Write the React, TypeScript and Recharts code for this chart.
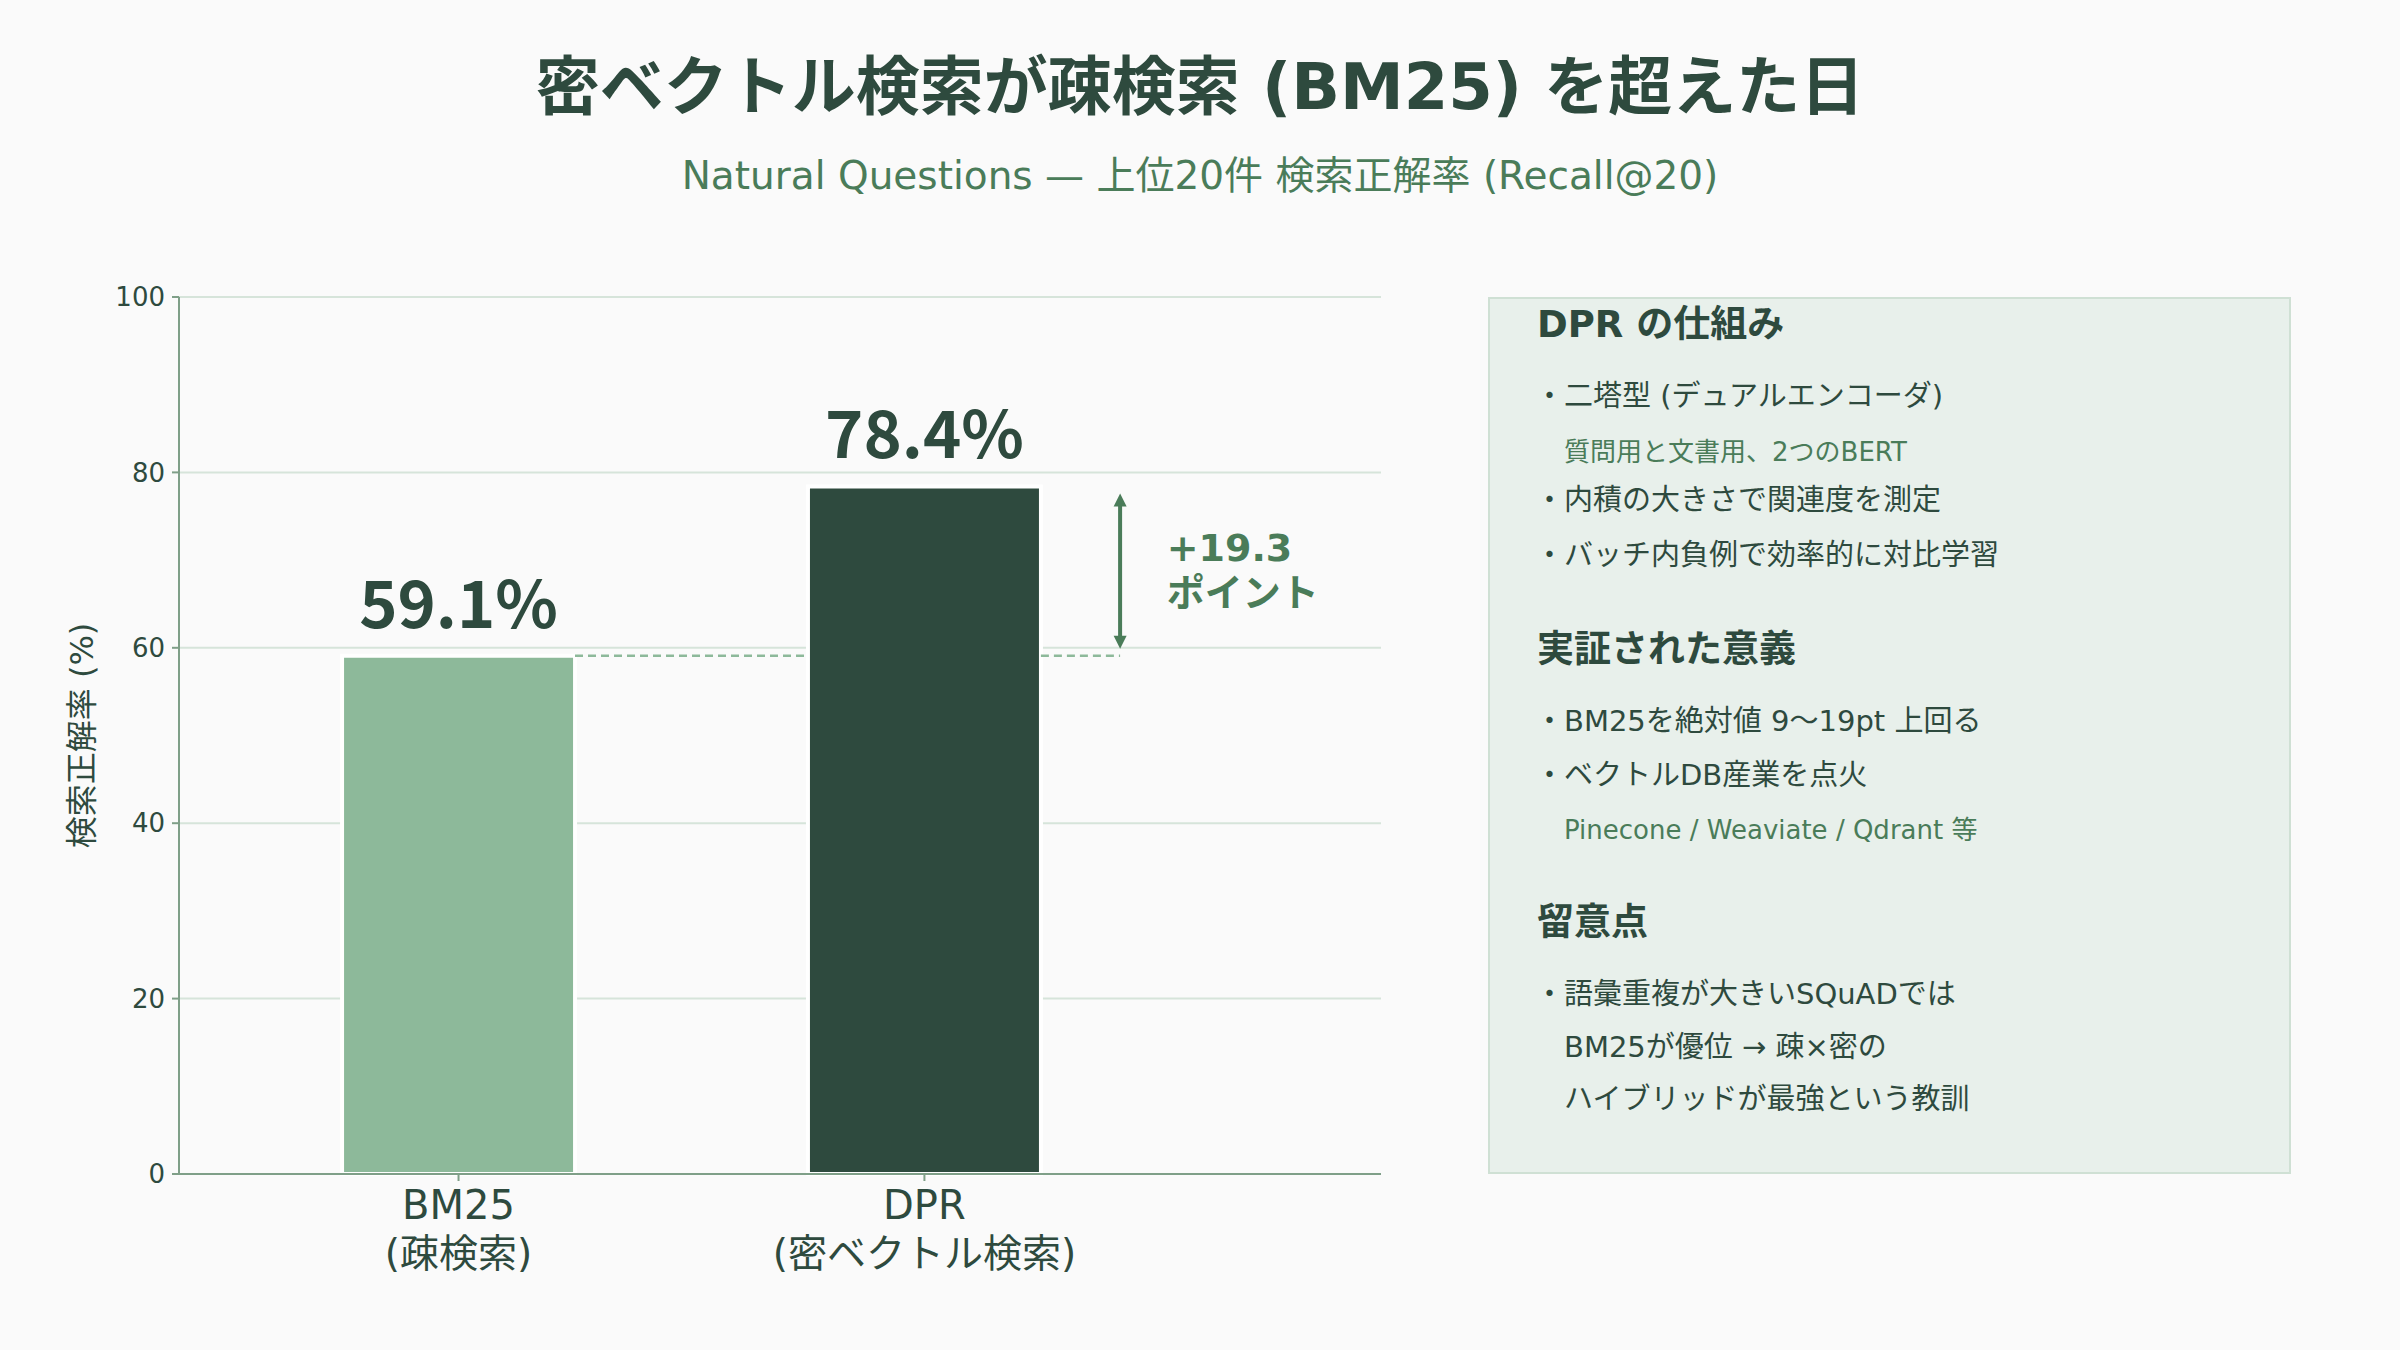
import React from 'react';
import {
  BarChart,
  Bar,
  Cell,
  XAxis,
  YAxis,
  CartesianGrid,
  LabelList,
  Label,
  ReferenceLine,
  ReferenceDot,
} from 'recharts';

// --- data ---
const methods = ['BM25', 'DPR'];
const methodNotes = ['(疎検索)', '(密ベクトル検索)'];
const recallAt20 = [59.1, 78.4];
const barColors = ['#8db99a', '#2e4a3e'];
const yTicks = [0, 20, 40, 60, 80, 100];

const panelSections = [
  {
    heading: 'DPR の仕組み',
    lines: [
      { text: '・二塔型 (デュアルエンコーダ)', kind: 'bullet' },
      { text: '質問用と文書用、2つのBERT', kind: 'note' },
      { text: '・内積の大きさで関連度を測定', kind: 'bullet' },
      { text: '・バッチ内負例で効率的に対比学習', kind: 'bullet' },
    ],
  },
  {
    heading: '実証された意義',
    lines: [
      { text: '・BM25を絶対値 9〜19pt 上回る', kind: 'bullet' },
      { text: '・ベクトルDB産業を点火', kind: 'bullet' },
      { text: 'Pinecone / Weaviate / Qdrant 等', kind: 'note' },
    ],
  },
  {
    heading: '留意点',
    lines: [
      { text: '・語彙重複が大きいSQuADでは', kind: 'bullet' },
      { text: 'BM25が優位 → 疎×密の', kind: 'cont' },
      { text: 'ハイブリッドが最強という教訓', kind: 'cont' },
    ],
  },
];

const data = methods.map((name, i) => ({
  pos: i,
  name,
  note: methodNotes[i],
  value: recallAt20[i],
}));

// bar width in x-axis units (one unit between the two bars)
const BAR_W = 0.5;
const ARROW_X = 1.42;
const NOTE_X = 1.52;

const DARK = '#2e4a3e';
const MID = '#4a7c59';
const AXIS = '#7f9f88';
const FONT = "'DejaVu Sans', 'Noto Sans CJK JP', sans-serif";
const LABEL_FONT = "'Noto Sans CJK JP', sans-serif";

const gain = recallAt20[1] - recallAt20[0];

function MethodTick(props: any) {
  const { x, y, payload } = props;
  const d = data[payload.value] ?? data[0];
  return (
    <g>
      <text x={x} y={y + 36} textAnchor="middle" fill={DARK} fontSize={40} fontFamily={FONT}>
        {d.name}
      </text>
      <text x={x} y={y + 84} textAnchor="middle" fill={DARK} fontSize={39} fontFamily={FONT}>
        {d.note}
      </text>
    </g>
  );
}

function GapArrow(props: any) {
  const { x1, y1, x2, y2 } = props;
  const top = Math.min(y1, y2) + 7;
  const bottom = Math.max(y1, y2) - 7;
  const x = x1;
  return (
    <g>
      <line x1={x} y1={top + 10} x2={x2} y2={bottom - 10} stroke={MID} strokeWidth={4} />
      <polygon points={`${x},${top} ${x - 6.5},${top + 13} ${x + 6.5},${top + 13}`} fill={MID} />
      <polygon points={`${x},${bottom} ${x - 6.5},${bottom - 13} ${x + 6.5},${bottom - 13}`} fill={MID} />
    </g>
  );
}

function GapNote(props: any) {
  const { cx, cy } = props;
  return (
    <g fill={MID} fontSize={38} fontWeight={700} fontFamily={FONT}>
      <text x={cx} y={cy - 10}>{`+${gain.toFixed(1)}`}</text>
      <text x={cx} y={cy + 35}>ポイント</text>
    </g>
  );
}

function SidePanel() {
  const sectionTops = [27, 352, 625];
  const lineOffsets = [
    [72, 127, 176, 231],
    [72, 126, 180],
    [72, 125, 177],
  ];
  return (
    <div
      style={{
        position: 'absolute',
        left: 1488,
        top: 297,
        width: 799,
        height: 873,
        background: '#e8f0eb',
        border: '2px solid #cfe0d4',
        fontFamily: FONT,
      }}
    >
      {panelSections.map((sec, si) => (
        <React.Fragment key={sec.heading}>
          <div
            style={{
              position: 'absolute',
              left: 47,
              top: sectionTops[si] - 20,
              fontSize: 37,
              lineHeight: '37px',
              fontWeight: 700,
              color: DARK,
              whiteSpace: 'nowrap',
            }}
          >
            {sec.heading}
          </div>
          {sec.lines.map((ln, li) => {
            const fs = ln.kind === 'note' ? 26 : 29;
            return (
              <div
                key={ln.text}
                style={{
                  position: 'absolute',
                  left: ln.kind === 'bullet' ? 45 : 74,
                  top: sectionTops[si] + lineOffsets[si][li] - fs * 0.55,
                  fontSize: fs,
                  lineHeight: `${fs}px`,
                  color: ln.kind === 'note' ? MID : DARK,
                  whiteSpace: 'nowrap',
                }}
              >
                {ln.text}
              </div>
            );
          })}
        </React.Fragment>
      ))}
    </div>
  );
}

export default function App() {
  return (
    <div
      style={{
        position: 'absolute',
        left: 0,
        top: 0,
        width: 2400,
        height: 1350,
        background: '#fafafa',
        fontFamily: FONT,
        overflow: 'hidden',
      }}
    >
      <div
        style={{
          position: 'absolute',
          left: 0,
          top: 55,
          width: 2400,
          textAlign: 'center',
          fontSize: 64,
          lineHeight: '64px',
          fontWeight: 700,
          color: DARK,
        }}
      >
        密ベクトル検索が疎検索 (BM25) を超えた日
      </div>
      <div
        style={{
          position: 'absolute',
          left: 0,
          top: 156,
          width: 2400,
          textAlign: 'center',
          fontSize: 39,
          lineHeight: '39px',
          color: MID,
        }}
      >
        Natural Questions — 上位20件 検索正解率 (Recall@20)
      </div>

      <div style={{ position: 'absolute', left: 0, top: 0 }}>
        <BarChart
          width={1400}
          height={1350}
          data={data}
          margin={{ top: 297, right: 19, bottom: 76, left: 0 }}
          barCategoryGap={`${((1 - BAR_W) / 2) * 100}%`}
        >
          <CartesianGrid vertical={false} stroke="#d6e4da" strokeWidth={2} />
          <XAxis
            type="number"
            dataKey="pos"
            domain={[-0.6, 1.98]}
            ticks={[0, 1]}
            height={100}
            axisLine={{ stroke: AXIS, strokeWidth: 2 }}
            tickLine={{ stroke: AXIS, strokeWidth: 2 }}
            tickSize={7}
            tick={<MethodTick />}
          />
          <YAxis
            type="number"
            domain={[0, 100]}
            ticks={yTicks}
            width={179}
            axisLine={{ stroke: AXIS, strokeWidth: 2 }}
            tickLine={{ stroke: AXIS, strokeWidth: 2 }}
            tickSize={7}
            tickMargin={7}
            tick={{ fill: DARK, fontSize: 26, fontFamily: FONT }}
          >
            <Label
              value="検索正解率 (%)"
              angle={-90}
              position="insideLeft"
              offset={82}
              style={{ textAnchor: 'middle', fill: DARK, fontSize: 32, fontFamily: FONT }}
            />
          </YAxis>
          <ReferenceLine
            segment={[
              { x: BAR_W / 2, y: recallAt20[0] },
              { x: 1 - BAR_W / 2, y: recallAt20[0] },
            ]}
            stroke="#8db99a"
            strokeWidth={2.5}
            strokeDasharray="8 5"
          />
          <ReferenceLine
            segment={[
              { x: 1 + BAR_W / 2, y: recallAt20[0] },
              { x: ARROW_X, y: recallAt20[0] },
            ]}
            stroke="#8db99a"
            strokeWidth={2.5}
            strokeDasharray="8 5"
          />
          <Bar dataKey="value" stroke="#ffffff" strokeWidth={4} isAnimationActive={false}>
            {data.map((d, i) => (
              <Cell key={d.name} fill={barColors[i]} />
            ))}
            <LabelList
              dataKey="value"
              position="top"
              offset={28}
              formatter={(v: any) => `${v}%`}
              fill={DARK}
              fontSize={65}
              fontWeight={700}
              fontFamily={LABEL_FONT}
            />
          </Bar>
          <ReferenceLine
            segment={[
              { x: ARROW_X, y: recallAt20[0] },
              { x: ARROW_X, y: recallAt20[1] },
            ]}
            shape={<GapArrow />}
          />
          <ReferenceDot
            x={NOTE_X}
            y={(recallAt20[0] + recallAt20[1]) / 2}
            r={0}
            shape={<GapNote />}
          />
        </BarChart>
      </div>

      <SidePanel />
    </div>
  );
}
